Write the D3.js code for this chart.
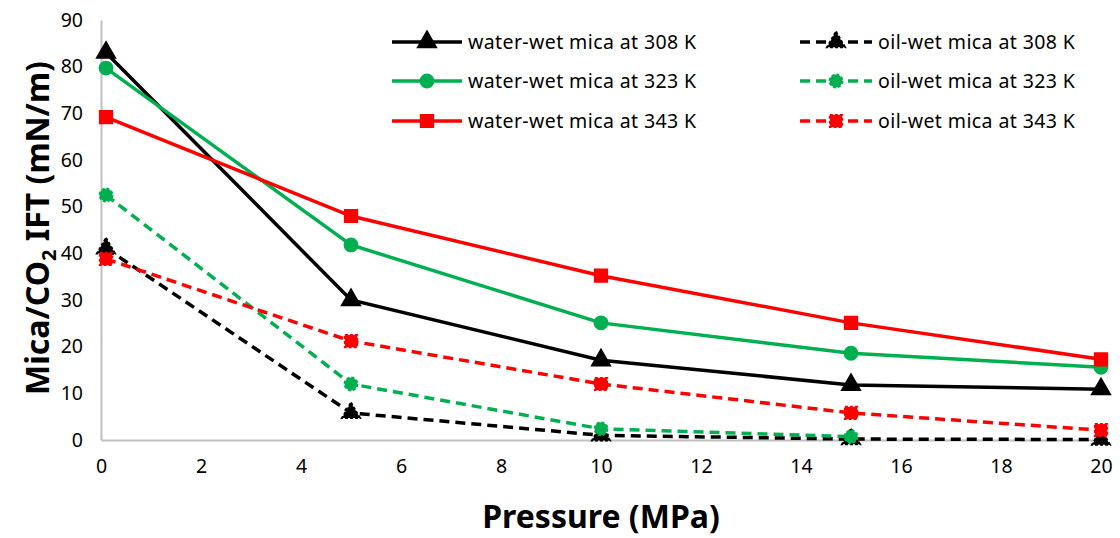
<!DOCTYPE html>
<html>
<head>
<meta charset="utf-8">
<script src="https://cdn.jsdelivr.net/npm/d3@7"></script>
<style>
  body { margin: 0; background: #fff; }
  text { font-family: "Noto Sans", "DejaVu Sans", sans-serif; }
</style>
</head>
<body>
<div id="chart"></div>
<script>
// pressure (MPa)
const pressure = [0.1, 5, 10, 15, 20];

// IFT values (mN/m)
const waterWet308 = [83.0, 30.0, 17.1, 11.8, 10.9];
const waterWet323 = [79.7, 41.8, 25.1, 18.6, 15.6];
const waterWet343 = [69.2, 48.0, 35.2, 25.1, 17.3];
const oilWet308 = [41.1, 5.8, 1.0, 0.2, 0.1];
const oilWet323 = [52.5, 12.0, 2.4, 0.7, null];
const oilWet343 = [38.8, 21.2, 12.0, 5.8, 2.1];

const xTicks = [0, 2, 4, 6, 8, 10, 12, 14, 16, 18, 20];
const yTicks = [0, 10, 20, 30, 40, 50, 60, 70, 80, 90];

const series = [
  { name: "water-wet mica at 308 K", values: waterWet308, color: "#000000", dashed: false, marker: "triangle" },
  { name: "oil-wet mica at 308 K", values: oilWet308, color: "#000000", dashed: true, marker: "triangle" },
  { name: "water-wet mica at 323 K", values: waterWet323, color: "#00b050", dashed: false, marker: "circle" },
  { name: "oil-wet mica at 323 K", values: oilWet323, color: "#00b050", dashed: true, marker: "circle" },
  { name: "water-wet mica at 343 K", values: waterWet343, color: "#ff0000", dashed: false, marker: "square" },
  { name: "oil-wet mica at 343 K", values: oilWet343, color: "#ff0000", dashed: true, marker: "square" }
];

const width = 1120, height = 538;
const margin = { left: 101, right: 19, top: 20, bottom: 98 };

const svg = d3.select("#chart").append("svg")
  .attr("width", width)
  .attr("height", height);

const x = d3.scaleLinear().domain([0, 20]).range([margin.left, width - margin.right]);
const y = d3.scaleLinear().domain([0, 90]).range([height - margin.bottom, margin.top]);

// axes
const xAxis = svg.append("g")
  .attr("transform", `translate(0,${y(0)})`)
  .call(d3.axisBottom(x).tickValues(xTicks).tickSize(0).tickPadding(19));
const yAxis = svg.append("g")
  .attr("transform", `translate(${x(0)},0)`)
  .call(d3.axisLeft(y).tickValues(yTicks).tickSize(0).tickPadding(18));

[xAxis, yAxis].forEach(g => {
  g.select(".domain").attr("stroke", "#bfbfbf").attr("stroke-width", 2);
  g.selectAll("text").attr("font-size", 19.5).attr("fill", "#000")
    .attr("font-family", "'Noto Sans', sans-serif");
});

// axis titles
svg.append("text")
  .attr("x", (x(0) + x(20)) / 2)
  .attr("y", 528)
  .attr("text-anchor", "middle")
  .attr("font-size", 32)
  .attr("font-weight", "bold")
  .text("Pressure (MPa)");

const yTitle = svg.append("text")
  .attr("transform", `translate(49,${y(45) - 2}) rotate(-90)`)
  .attr("text-anchor", "middle")
  .attr("font-size", 32)
  .attr("font-weight", "bold");
yTitle.append("tspan").text("Mica/CO");
yTitle.append("tspan").attr("font-size", 20).attr("dy", 7).text("2");
yTitle.append("tspan").attr("dy", -7).text(" IFT  (mN/m)");

const symbolType = { triangle: d3.symbolTriangle, circle: d3.symbolCircle, square: d3.symbolSquare };
const symbolSize = { triangle: 140, circle: 130, square: 150 };

const line = d3.line()
  .defined(d => d[1] != null)
  .x(d => x(d[0]))
  .y(d => y(d[1]));

function drawMarker(g, s, cx, cy) {
  g.append("path")
    .attr("d", d3.symbol().type(symbolType[s.marker]).size(symbolSize[s.marker])())
    .attr("transform", `translate(${cx},${cy})`)
    .attr("fill", s.color)
    .attr("stroke", s.color)
    .attr("stroke-width", 2)
    .attr("stroke-dasharray", s.dashed ? "3,2" : null);
}

// draw order: dashed first, then solid
const order = [1, 3, 5, 0, 2, 4];
order.forEach(i => {
  const s = series[i];
  const pts = pressure.map((p, k) => [p, s.values[k]]);
  const g = svg.append("g");
  g.append("path")
    .datum(pts)
    .attr("fill", "none")
    .attr("stroke", s.color)
    .attr("stroke-width", 3.5)
    .attr("stroke-dasharray", s.dashed ? "10,6" : null)
    .attr("d", line);
  pts.filter(d => d[1] != null).forEach(d => drawMarker(g, s, x(d[0]), y(d[1])));
});

// legend
const legendCols = [392, 800];
const legendRows = [42, 81, 121];
series.forEach((s, i) => {
  const col = i % 2, row = Math.floor(i / 2);
  const lx = legendCols[col], ly = legendRows[row];
  const lw = col === 0 ? 70 : 72;
  const g = svg.append("g");
  g.append("line")
    .attr("x1", lx).attr("x2", lx + lw)
    .attr("y1", ly).attr("y2", ly)
    .attr("stroke", s.color)
    .attr("stroke-width", 3.5)
    .attr("stroke-dasharray", s.dashed ? "10,6" : null);
  drawMarker(g, s, lx + lw / 2, ly);
  g.append("text")
    .attr("x", lx + lw + 6)
    .attr("y", ly + 7)
    .attr("font-size", 19.5)
    .attr("letter-spacing", 0.4)
    .attr("fill", "#000")
    .text(s.name);
});
</script>
</body>
</html>
